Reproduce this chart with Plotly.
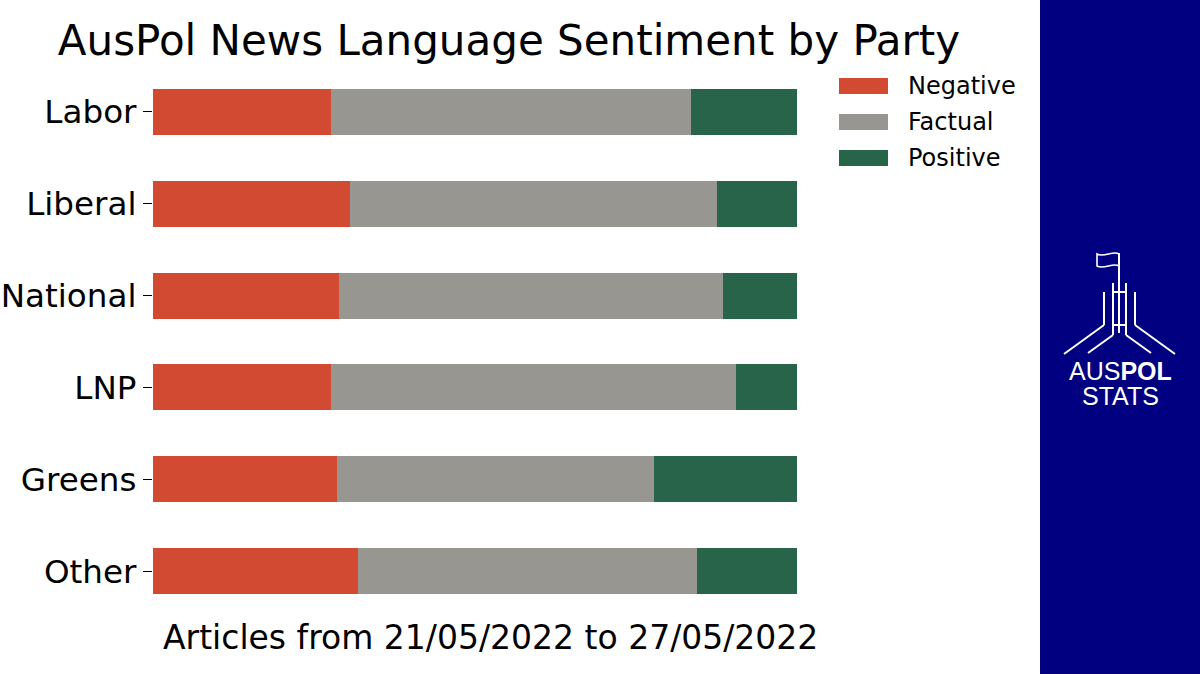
import plotly.graph_objects as go

parties = ["Labor", "Liberal", "National", "LNP", "Greens", "Other"]
negative = [27.6, 30.6, 28.9, 27.6, 28.6, 31.8]
factual = [55.9, 57.0, 59.6, 62.9, 49.2, 52.6]
positive = [16.5, 12.4, 11.5, 9.5, 22.2, 15.6]
series_names = ["Negative", "Factual", "Positive"]
colors = ["#d14a31", "#979691", "#276449"]
subtitle = "Articles from 21/05/2022 to 27/05/2022"
title = "AusPol News Language Sentiment by Party"

W, H = 1200, 674
L, R, T, B = 153, 797, 66, 617
FONT = "DejaVu Sans"

def px(x):
    return (x - L) / (R - L)

def py(y):
    return (B - y) / (B - T)

fig = go.Figure()
for name, vals, col in zip(series_names, [negative, factual, positive], colors):
    fig.add_trace(go.Bar(
        y=parties, x=vals, name=name, orientation="h",
        marker=dict(color=col, line=dict(width=0)), width=0.5,
        showlegend=False,
    ))

shapes = []
annotations = []

# right navy panel
shapes.append(dict(type="rect", xref="paper", yref="paper",
                   x0=px(1040), x1=px(1205), y0=py(680), y1=py(-5),
                   fillcolor="#000080", line=dict(width=0), layer="below"))

# manual legend
for i, (name, col) in enumerate(zip(series_names, colors)):
    yc = 86 + 36 * i
    shapes.append(dict(type="rect", xref="paper", yref="paper",
                       x0=px(839), x1=px(888), y0=py(yc + 8), y1=py(yc - 8),
                       fillcolor=col, line=dict(width=0)))
    annotations.append(dict(text=name, xref="paper", yref="paper",
                            x=px(906), y=py(yc), xanchor="left", yanchor="middle",
                            showarrow=False, font=dict(family=FONT, size=24, color="#000")))

# logo lines
wl = dict(color="white", width=2)
def seg(x0, y0, x1, y1):
    shapes.append(dict(type="line", xref="paper", yref="paper",
                       x0=px(x0), y0=py(y0), x1=px(x1), y1=py(y1), line=wl))

seg(1119, 253, 1119, 333)   # flag pole / centre
seg(1113, 283, 1113, 335)
seg(1126, 283, 1126, 335)
seg(1113, 292, 1126, 292)
seg(1113, 325, 1126, 325)
seg(1104, 292, 1104, 325)
seg(1135, 292, 1135, 325)
seg(1104, 325, 1064, 354)
seg(1135, 325, 1175, 354)
seg(1113, 335, 1088, 353)
seg(1126, 335, 1151, 353)
# flag
def P(x, y):
    return f"{px(x)},{py(y)}"
shapes.append(dict(type="path", xref="paper", yref="paper",
                   path=(f"M{P(1119,254)} C{P(1113,250)} {P(1104,258)} {P(1097,254)} "
                         f"L{P(1097,266)} C{P(1104,270)} {P(1113,262)} {P(1119,266)} Z"),
                   line=dict(color="white", width=1.6), fillcolor="rgba(0,0,0,0)"))

annotations.append(dict(text="AUS<b>POL</b>", xref="paper", yref="paper",
                        x=px(1120), y=py(371), xanchor="center", yanchor="middle",
                        showarrow=False, font=dict(family="Liberation Sans", size=25, color="white")))
annotations.append(dict(text="STATS", xref="paper", yref="paper",
                        x=px(1120), y=py(396), xanchor="center", yanchor="middle",
                        showarrow=False, font=dict(family="Liberation Sans", size=25, color="white")))

# subtitle
annotations.append(dict(text=subtitle, xref="paper", yref="paper",
                        x=px(490), y=py(637), xanchor="center", yanchor="middle",
                        showarrow=False, font=dict(family=FONT, size=33, color="#000")))

fig.update_layout(
    width=W, height=H,
    margin=dict(l=L, r=W - R, t=T, b=H - B, pad=0, autoexpand=False),
    paper_bgcolor="white", plot_bgcolor="white",
    barmode="stack", bargap=0.5,
    title=dict(text=title, x=509 / W, xanchor="center", y=1 - 40 / H, yanchor="middle",
               font=dict(family=FONT, size=42, color="#000"), automargin=False),
    xaxis=dict(range=[0, 100], visible=False, showgrid=False, zeroline=False, automargin=False),
    yaxis=dict(categoryorder="array", categoryarray=parties, autorange="reversed",
               showgrid=False, zeroline=False, showline=False, automargin=False,
               ticks="outside", ticklen=9, tickwidth=1.3, tickcolor="#000",
               tickfont=dict(family=FONT, size=32.6, color="#000"),
               ticklabelstandoff=0),
    shapes=shapes, annotations=annotations, showlegend=False,
)

fig.write_html("out.html")
